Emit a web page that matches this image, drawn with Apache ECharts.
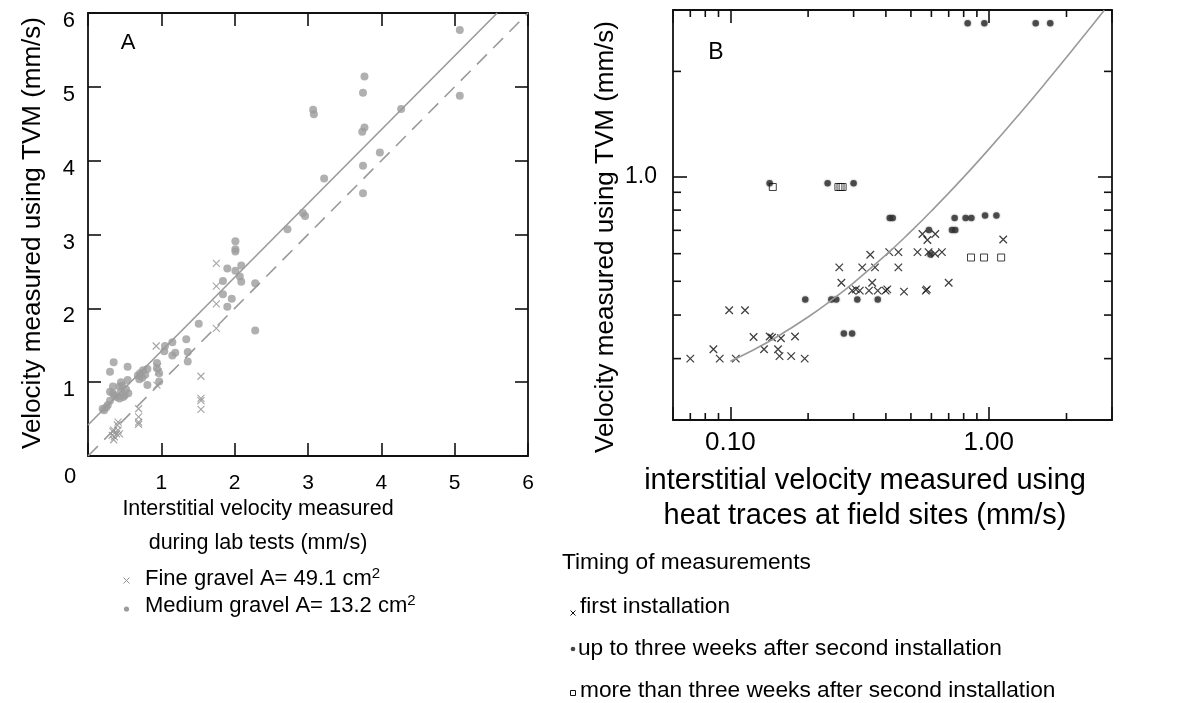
<!DOCTYPE html>
<html><head><meta charset="utf-8">
<script src="https://cdn.jsdelivr.net/npm/echarts@6/dist/echarts.min.js"></script>
<style>html,body{margin:0;padding:0;background:#fff}#c{width:1189px;height:703px}</style>
</head><body><div id="c"></div>
<script>
const FONT = '"Liberation Sans", Arial, Helvetica, sans-serif';

// ---------- Panel A : lab tests (linear axes) ----------
const aTicks = [0, 1, 2, 3, 4, 5, 6];
const aFineX = [1.75,1.75,1.75,1.75,0.93,0.95,0.96,0.94,1.54,1.54,1.54,1.54,0.69,0.69,0.69,0.69,0.41,0.40,0.35,0.34,0.41,0.33,0.39,0.35,0.43,0.36];
const aFineY = [2.61,2.30,2.06,1.73,1.49,1.21,1.14,0.96,1.08,0.78,0.75,0.63,0.64,0.53,0.46,0.43,0.46,0.42,0.35,0.33,0.35,0.28,0.30,0.22,0.30,0.26];
const aMedX = [5.07,3.77,3.75,3.07,3.08,4.27,5.07,3.77,3.74,3.98,3.75,3.22,3.75,
  2.93,2.96,2.72,2.01,2.01,2.01,2.09,1.90,2.01,2.07,2.09,2.28,1.84,1.84,1.96,1.90,2.28,1.51,
  1.34,1.36,1.36,1.15,1.05,1.04,1.19,1.15,
  0.94,0.94,0.97,0.97,0.81,0.75,0.71,0.68,0.74,0.78,0.70,0.81,
  0.54,0.54,0.35,0.30,0.34,0.30,0.45,0.43,0.45,0.50,0.55,0.39,0.43,0.34,0.48,0.36,0.30,0.27,0.25,0.20,0.22,0.52,0.47];
const aMedY = [5.77,5.14,4.92,4.69,4.63,4.70,4.88,4.45,4.39,4.11,3.93,3.76,3.56,
  3.29,3.25,3.07,2.91,2.80,2.77,2.58,2.54,2.51,2.43,2.36,2.34,2.37,2.19,2.13,2.02,1.70,1.79,
  1.58,1.41,1.28,1.54,1.49,1.42,1.40,1.36,
  1.26,1.19,1.12,1.01,1.18,1.16,1.12,1.09,1.06,1.10,1.04,0.96,
  1.21,1.03,1.27,1.14,0.94,0.87,1.00,0.94,0.87,0.82,0.85,0.80,0.78,0.85,0.80,0.82,0.75,0.69,0.66,0.64,0.62,0.90,0.95];
// regression (solid) and 1:1 (dashed) lines, end points
const aFitX = [0, 5.58];
const aFitY = [0.42, 6.0];
const aOneX = [0, 6];
const aOneY = [0, 6];

// ---------- Panel B : field sites (log axes) ----------
const bMinorX = [0.07,0.08,0.09,0.2,0.3,0.4,0.5,0.6,0.7,0.8,0.9,2];
const bMinorY = [0.3,0.4,0.5,0.6,0.7,0.8,0.9,2];
const bFirstX = [0.070,0.086,0.091,0.105,0.099,0.114,0.123,0.135,0.142,0.145,0.153,0.157,0.155,0.172,0.178,0.194,
  0.264,0.269,0.296,0.306,0.317,0.324,0.344,0.348,0.354,0.363,0.372,0.399,0.405,0.412,0.447,0.447,0.470,0.530,0.554,0.579,0.621,0.571,0.576,0.585,0.62,0.659,0.700,1.138];
const bFirstY = [0.30,0.319,0.30,0.30,0.413,0.413,0.346,0.319,0.347,0.345,0.319,0.343,0.305,0.305,0.347,0.30,
  0.548,0.495,0.47,0.474,0.47,0.548,0.47,0.596,0.495,0.548,0.47,0.47,0.474,0.606,0.606,0.548,0.467,0.606,0.683,0.657,0.683,0.47,0.474,0.606,0.60,0.606,0.495,0.659];
const bUp3wX = [0.829,0.962,1.52,1.73,0.142,0.238,0.300,0.195,0.246,0.257,0.310,0.372,0.275,0.296,
  0.414,0.425,0.587,0.721,0.742,0.738,0.814,0.857,0.968,1.071,0.595];
const bUp3wY = [2.75,2.75,2.75,2.75,0.955,0.955,0.955,0.443,0.443,0.443,0.443,0.443,0.354,0.354,
  0.759,0.759,0.702,0.702,0.702,0.759,0.759,0.759,0.772,0.772,0.597];
const bMore3wX = [0.146,0.262,0.267,0.272,0.854,0.959,1.117];
const bMore3wY = [0.932,0.932,0.932,0.932,0.585,0.585,0.585];
// fitted curve
const bCurveX = [0.10,0.12,0.15,0.20,0.25,0.30,0.40,0.50,0.60,0.80,1.00,1.30,1.70,2.20,2.80];
const bCurveY = [0.295,0.315,0.345,0.395,0.445,0.495,0.595,0.695,0.795,0.995,1.195,1.495,1.895,2.395,2.995];

const zip = (xs, ys) => xs.map((x, i) => [x, ys[i]]);
const CROSS = 'path://M0,0L10,10M10,0L0,10';
const AX = '#111';
const near = (a, b) => Math.abs(a - b) < 1e-6 * Math.max(1, Math.abs(b));

function frameAxis(extra) {
  return Object.assign({
    axisLine: { onZero: false, lineStyle: { color: AX, width: 1.8 } },
    axisTick: { inside: true, length: 13, lineStyle: { color: AX, width: 1.6 } },
    splitLine: { show: false },
    axisLabel: { show: false },
  }, extra);
}

const chart = echarts.init(document.getElementById('c'), null, { renderer: 'canvas' });

const tickSeries = (vals, isX) => ({
  type: 'custom', xAxisIndex: 2, yAxisIndex: 2, silent: true, clip: false, z: 5,
  data: vals.map(v => isX ? [v, 1] : [1, v]),
  renderItem: (params, api) => {
    const v = api.value(isX ? 0 : 1);
    const st = { stroke: AX, lineWidth: 1.6 };
    if (isX) {
      const b = api.coord([v, 0.2]), t = api.coord([v, 3]);
      return { type: 'group', children: [
        { type: 'line', shape: { x1: b[0], y1: b[1], x2: b[0], y2: b[1] - 7 }, style: st },
        { type: 'line', shape: { x1: t[0], y1: t[1], x2: t[0], y2: t[1] + 7 }, style: st }
      ]};
    }
    const l = api.coord([0.06, v]), r = api.coord([3, v]);
    return { type: 'group', children: [
      { type: 'line', shape: { x1: l[0], y1: l[1], x2: l[0] + 8, y2: l[1] }, style: st },
      { type: 'line', shape: { x1: r[0], y1: r[1], x2: r[0] - 8, y2: r[1] }, style: st }
    ]};
  }
});

const option = {
  animation: false,
  backgroundColor: '#fff',
  textStyle: { fontFamily: FONT },
  grid: [
    { left: 88, top: 13, width: 440, height: 443 },
    { left: 673, top: 10, width: 439, height: 410 }
  ],
  xAxis: [
    frameAxis({ gridIndex: 0, type: 'value', min: aTicks[0], max: aTicks[aTicks.length - 1], interval: 1, position: 'bottom',
      axisLabel: { show: true, fontSize: 21, color: '#000', fontFamily: FONT, margin: 17,
        formatter: v => (v === 0 ? '' : String(v)) } }),
    frameAxis({ gridIndex: 0, type: 'value', min: 0, max: 6, interval: 1, position: 'top' }),
    frameAxis({ gridIndex: 1, type: 'log', logBase: 10, min: 0.06, max: 3, position: 'bottom',
      axisLabel: { show: true, fontSize: 26, color: '#000', fontFamily: FONT, margin: 10,
        formatter: v => (near(v, 0.1) ? '0.10' : near(v, 1) ? '1.00' : '') } }),
    frameAxis({ gridIndex: 1, type: 'log', logBase: 10, min: 0.06, max: 3, position: 'top' })
  ],
  yAxis: [
    frameAxis({ gridIndex: 0, type: 'value', min: 0, max: 6, interval: 1, position: 'left',
      axisLabel: { show: true, fontSize: 22, color: '#000', fontFamily: FONT, margin: 13,
        verticalAlign: 'top', lineHeight: 16,
        formatter: v => (v === 0 ? '' : String(v)) } }),
    frameAxis({ gridIndex: 0, type: 'value', min: 0, max: 6, interval: 1, position: 'right' }),
    frameAxis({ gridIndex: 1, type: 'log', logBase: 10, min: 0.2, max: 3, position: 'left',
      axisTick: { inside: true, length: 14, lineStyle: { color: AX, width: 1.6 } },
      axisLabel: { show: true, fontSize: 23, color: '#000', fontFamily: FONT, margin: 16,
        padding: [5, 0, 0, 0],
        formatter: v => (near(v, 1) ? '1.0' : '') } }),
    frameAxis({ gridIndex: 1, type: 'log', logBase: 10, min: 0.2, max: 3, position: 'right',
      axisTick: { inside: true, length: 14, lineStyle: { color: AX, width: 1.6 } } })
  ],
  series: [
    { type: 'line', xAxisIndex: 0, yAxisIndex: 0, data: zip(aOneX, aOneY), symbol: 'none', silent: true,
      lineStyle: { color: '#9a9a9a', width: 1.6, type: [14, 9] } },
    { type: 'line', xAxisIndex: 0, yAxisIndex: 0, data: zip(aFitX, aFitY), symbol: 'none', silent: true,
      lineStyle: { color: '#9a9a9a', width: 1.6 } },
    { name: 'Fine gravel', type: 'scatter', xAxisIndex: 0, yAxisIndex: 0, data: zip(aFineX, aFineY),
      symbol: CROSS, symbolSize: 7, itemStyle: { color: 'transparent', borderColor: '#8f8f8f', borderWidth: 1.1 } },
    { name: 'Medium gravel', type: 'scatter', xAxisIndex: 0, yAxisIndex: 0, data: zip(aMedX, aMedY),
      symbol: 'circle', symbolSize: 8, itemStyle: { color: '#9c9c9c' } },

    { type: 'line', xAxisIndex: 2, yAxisIndex: 2, data: zip(bCurveX, bCurveY), symbol: 'none', smooth: true, silent: true,
      lineStyle: { color: '#9a9a9a', width: 1.6 } },
    { name: 'first installation', type: 'scatter', xAxisIndex: 2, yAxisIndex: 2, data: zip(bFirstX, bFirstY),
      symbol: CROSS, symbolSize: 7.5, itemStyle: { color: 'transparent', borderColor: '#111', borderWidth: 1.3 } },
    { name: 'up to three weeks', type: 'scatter', xAxisIndex: 2, yAxisIndex: 2, data: zip(bUp3wX, bUp3wY),
      symbol: 'circle', symbolSize: 6.5, itemStyle: { color: '#333', shadowBlur: 2, shadowColor: 'rgba(0,0,0,0.5)' } },
    { name: 'more than three weeks', type: 'scatter', xAxisIndex: 2, yAxisIndex: 2, data: zip(bMore3wX, bMore3wY),
      symbol: 'rect', symbolSize: 7, itemStyle: { color: 'transparent', borderColor: '#111', borderWidth: 1 } },
    tickSeries(bMinorX, true),
    tickSeries(bMinorY, false)
  ],
  graphic: [
    // Panel A texts
    { type: 'text', x: 128, y: 43, style: { text: 'A', font: '22px ' + FONT, fill: '#000', align: 'center', verticalAlign: 'middle' } },
    { type: 'text', x: 70, y: 477, style: { text: '0', font: '22px ' + FONT, fill: '#000', align: 'center', verticalAlign: 'middle' } },
    { type: 'text', x: 33, y: 233, rotation: Math.PI / 2, style: { text: 'Velocity measured using TVM (mm/s)', font: '26px ' + FONT, fill: '#000', align: 'center', verticalAlign: 'middle' } },
    { type: 'text', x: 258, y: 509, style: { text: 'Interstitial velocity measured', font: '21.5px ' + FONT, fill: '#000', align: 'center', verticalAlign: 'middle' } },
    { type: 'text', x: 258, y: 543, style: { text: 'during lab tests (mm/s)', font: '21.5px ' + FONT, fill: '#000', align: 'center', verticalAlign: 'middle' } },
    { type: 'line', shape: { x1: 123.5, y1: 577.5, x2: 129.5, y2: 583.5 }, style: { stroke: '#8f8f8f', lineWidth: 1 } },
    { type: 'line', shape: { x1: 129.5, y1: 577.5, x2: 123.5, y2: 583.5 }, style: { stroke: '#8f8f8f', lineWidth: 1 } },
    { type: 'circle', shape: { cx: 126.5, cy: 609, r: 2.6 }, style: { fill: '#9c9c9c' } },
    { type: 'text', x: 145, y: 579, style: { text: '{t|Fine gravel A= 49.1 cm}{s|2}', fill: '#000', align: 'left', verticalAlign: 'middle',
        rich: { t: { font: '22px ' + FONT, fill: '#000', lineHeight: 26 }, s: { font: '15px ' + FONT, fill: '#000', verticalAlign: 'top' } } } },
    { type: 'text', x: 145, y: 606, style: { text: '{t|Medium gravel A= 13.2 cm}{s|2}', fill: '#000', align: 'left', verticalAlign: 'middle',
        rich: { t: { font: '22px ' + FONT, fill: '#000', lineHeight: 26 }, s: { font: '15px ' + FONT, fill: '#000', verticalAlign: 'top' } } } },

    // Panel B texts
    { type: 'text', x: 716, y: 53, style: { text: 'B', font: '23px ' + FONT, fill: '#000', align: 'center', verticalAlign: 'middle' } },
    { type: 'text', x: 606, y: 237, rotation: Math.PI / 2, style: { text: 'Velocity measured using TVM (mm/s)', font: '26px ' + FONT, fill: '#000', align: 'center', verticalAlign: 'middle' } },
    { type: 'text', x: 865, y: 481, style: { text: 'interstitial velocity measured using', font: '29px ' + FONT, fill: '#000', align: 'center', verticalAlign: 'middle' } },
    { type: 'text', x: 865, y: 516, style: { text: 'heat traces at field sites (mm/s)', font: '29px ' + FONT, fill: '#000', align: 'center', verticalAlign: 'middle' } },
    { type: 'text', x: 562, y: 563, style: { text: 'Timing of measurements', font: '22.7px ' + FONT, fill: '#000', align: 'left', verticalAlign: 'middle' } },
    { type: 'line', shape: { x1: 570.5, y1: 610.5, x2: 575.5, y2: 615.5 }, style: { stroke: '#111', lineWidth: 1 } },
    { type: 'line', shape: { x1: 575.5, y1: 610.5, x2: 570.5, y2: 615.5 }, style: { stroke: '#111', lineWidth: 1 } },
    { type: 'text', x: 580, y: 607, style: { text: 'first installation', font: '22.7px ' + FONT, fill: '#000', align: 'left', verticalAlign: 'middle' } },
    { type: 'circle', shape: { cx: 573, cy: 649, r: 2.3 }, style: { fill: '#444' } },
    { type: 'text', x: 578, y: 649, style: { text: 'up to three weeks after second installation', font: '22.7px ' + FONT, fill: '#000', align: 'left', verticalAlign: 'middle' } },
    { type: 'rect', shape: { x: 570.5, y: 690.5, width: 5, height: 5 }, style: { fill: 'none', stroke: '#111', lineWidth: 1 } },
    { type: 'text', x: 580, y: 691, style: { text: 'more than three weeks after second installation', font: '22.7px ' + FONT, fill: '#000', align: 'left', verticalAlign: 'middle' } }
  ]
};
chart.setOption(option);
</script>
</body></html>
